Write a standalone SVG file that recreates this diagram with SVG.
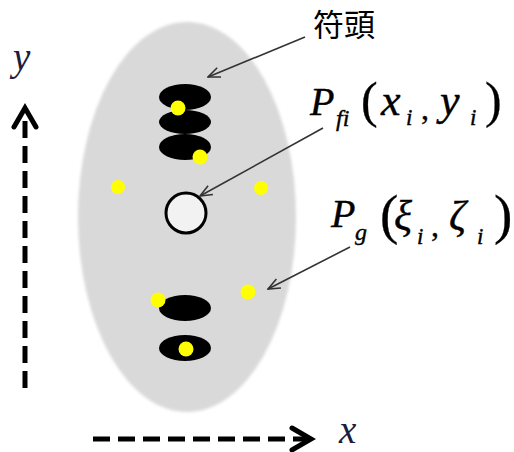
<svg xmlns="http://www.w3.org/2000/svg" width="514" height="452" viewBox="0 0 514 452">
<defs>
<filter id="soft" x="-5%" y="-5%" width="110%" height="110%"><feGaussianBlur stdDeviation="1.5"/></filter>
<marker id="open" markerWidth="14" markerHeight="12" refX="13" refY="6" orient="auto" markerUnits="userSpaceOnUse">
<path d="M1,1 L13,6 L1,11" fill="none" stroke="#333" stroke-width="1.6"/>
</marker>
</defs>
<style>
.head{fill:#000}
.dot{fill:#ffff00}
.lead{stroke:#333;stroke-width:1.6;fill:none}
.axis{stroke:#000;stroke-width:5;fill:none;stroke-dasharray:17 8}
.chev{stroke:#000;stroke-width:5;fill:none;stroke-linecap:round;stroke-linejoin:miter}
.m{font-family:"Liberation Serif",serif;font-style:italic;fill:#000;stroke:#000;stroke-width:0.4}
.r{font-family:"Liberation Serif",serif;fill:#000;stroke:#000;stroke-width:0.3}
.ax{font-family:"Liberation Serif",serif;font-style:italic;fill:#1c1c40;font-size:39px}
</style>
<rect width="514" height="452" fill="#fff"/>
<g id="body"><ellipse cx="187" cy="217" rx="109" ry="195" fill="#d9d9d9" filter="url(#soft)"/></g>
<g id="noteheads-top">
<ellipse class="head" cx="185" cy="97" rx="26" ry="13"/>
<ellipse class="head" cx="185" cy="122" rx="26" ry="12"/>
<ellipse class="head" cx="185" cy="147" rx="26" ry="13"/>
</g>
<g id="noteheads-bottom">
<ellipse class="head" cx="185" cy="308" rx="26" ry="13"/>
<ellipse class="head" cx="185" cy="348" rx="26" ry="13"/>
</g>
<g id="center"><circle cx="186" cy="213" r="20" fill="#f2f2f2" stroke="#000" stroke-width="3"/></g>
<g id="dots">
<circle class="dot" cx="178" cy="108" r="7.5"/>
<circle class="dot" cx="200" cy="157" r="7.5"/>
<circle class="dot" cx="118" cy="187" r="7"/>
<circle class="dot" cx="261" cy="188" r="7"/>
<circle class="dot" cx="158" cy="300" r="7.5"/>
<circle class="dot" cx="248" cy="292" r="7.5"/>
<circle class="dot" cx="186" cy="349" r="7.5"/>
</g>
<g id="connectors">
<line class="lead" x1="305" y1="37" x2="208" y2="77" marker-end="url(#open)"/>
<line class="lead" x1="323" y1="128" x2="200" y2="196" marker-end="url(#open)"/>
<line class="lead" x1="350" y1="247" x2="268" y2="289" marker-end="url(#open)"/>
<line class="axis" x1="25" y1="388" x2="25" y2="112"/>
<polyline class="chev" points="14,127 25,108 36,127"/>
<line class="axis" x1="93" y1="439" x2="308" y2="439"/>
<polyline class="chev" points="292,428 311,439 292,450"/>
</g>
<g id="label-notehead"><text x="313" y="36" font-family="'Noto Sans CJK JP','Noto Sans CJK SC',sans-serif" font-size="31" fill="#000">符頭</text></g>
<g id="label-pfi">
<text class="m" x="310" y="115" font-size="40">P</text>
<text class="m" x="336" y="126" font-size="24">fi</text>
<text class="r" x="361" y="117" font-size="50">(</text>
<text class="m" x="381" y="115" font-size="44">x</text>
<text class="m" x="406" y="125" font-size="23">i</text>
<text class="r" x="421" y="119" font-size="32">,</text>
<text class="m" x="440" y="115" font-size="44">y</text>
<text class="m" x="470" y="125" font-size="23">i</text>
<text class="r" x="485" y="117" font-size="50">)</text>
</g>
<g id="label-pg">
<text class="m" x="331" y="227" font-size="40">P</text>
<text class="m" x="355" y="240" font-size="24">g</text>
<text class="r" x="380" y="233" font-size="55">(</text>
<text class="m" x="394" y="230" font-size="42">ξ</text>
<text class="m" x="417" y="244" font-size="23">i</text>
<text class="r" x="431" y="236" font-size="32">,</text>
<text class="m" x="449" y="230" font-size="42">ζ</text>
<text class="m" x="477" y="244" font-size="23">i</text>
<text class="r" x="494" y="233" font-size="55">)</text>
</g>
<g id="axis-labels">
<text class="ax" x="13" y="70">y</text>
<text class="ax" x="339" y="443">x</text>
</g>
</svg>
